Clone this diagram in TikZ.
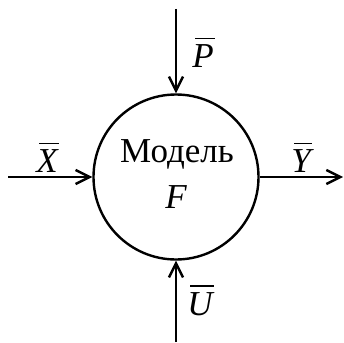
\documentclass[tikz,border=0pt]{standalone}
\usepackage{fontspec}
\setmainfont{Liberation Serif}
\usetikzlibrary{arrows.meta}
\begin{document}
\begin{tikzpicture}[x=1pt,y=-1pt,
  lw/.style={line width=2.4pt},
  arr/.style={lw,-{Straight Barb[length=14pt,width=14pt,line width=2.4pt]}},
  lbl/.style={font=\fontsize{35}{40}\selectfont,inner sep=0pt},
  var/.style={font=\fontsize{35}{40}\selectfont\itshape,inner sep=0pt},
  barl/.style={line width=1.5pt}]
\useasboundingbox (0,0) rectangle (344,342);
\node[lw,draw,circle,minimum size=165pt,inner sep=0pt] (m) at (176,177) {};
\node[lbl] (t1) at (177,154) {Модель};
\node[var] (t2) at (176,197) {F};
\coordinate (ptop) at (176,9);
\coordinate (pleft) at (8,177);
\coordinate (pright) at (343,177);
\coordinate (pbot) at (176,342);
\draw[arr] (ptop) -- (m.north);
\draw[arr] (pleft) -- (m.west);
\draw[arr] (m.east) -- (pright);
\draw[arr] (pbot) -- (m.south);
\node[var] (lp) at (203,56) {P};
\node[var] (lx) at (47,161) {X};
\node[var] (ly) at (301,161) {Y};
\node[var] (lu) at (200,304) {U};
\foreach \n in {lp,lx,ly,lu}
  \draw[barl] ([xshift=3pt,yshift=6pt]\n.north west) -- ([xshift=1pt,yshift=6pt]\n.north east);
\end{tikzpicture}
\end{document}
